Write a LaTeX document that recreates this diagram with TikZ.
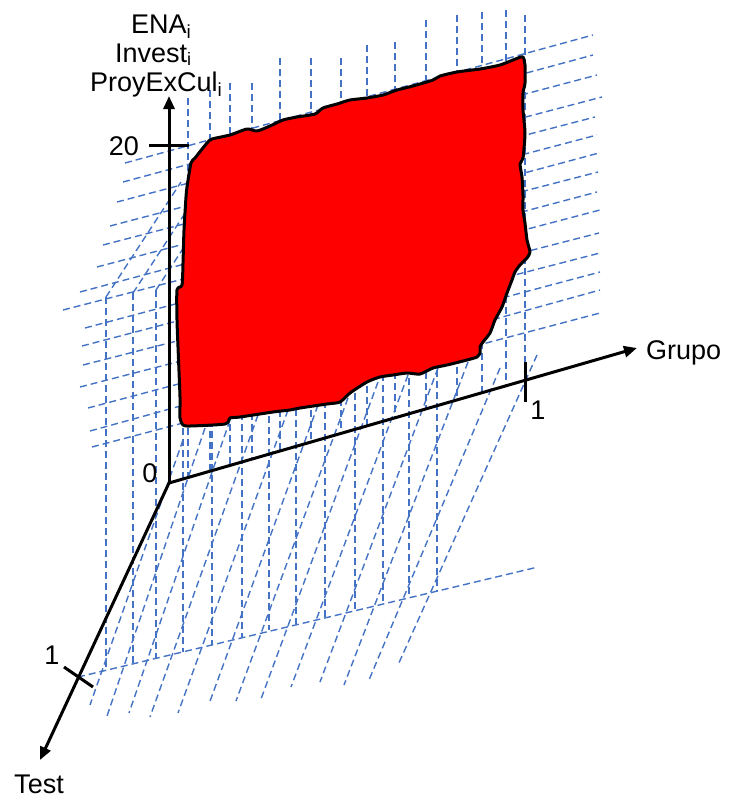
\documentclass[tikz,border=0pt]{standalone}
\usepackage{fontspec}
\setmainfont{Liberation Sans}
\usetikzlibrary{arrows.meta}
\definecolor{gridblue}{RGB}{68,114,196}
\definecolor{shapered}{RGB}{255,0,0}
\begin{document}
\begin{tikzpicture}[x=1pt,y=-1pt,
  gridline/.style={gridblue,line width=1.4pt,dash pattern=on 7pt off 4pt},
  axisline/.style={black,line width=3pt,-{Triangle[length=13pt,width=11pt]}},
  tickline/.style={black,line width=3pt},
  lab/.style={font=\fontsize{27}{30}\selectfont,inner sep=0pt},
  subi/.style={}]
\useasboundingbox (0,0) rectangle (729,798);
\fill[white] (0,0) rectangle (729,798);
% back plane lines parallel to Grupo
\foreach \xa/\ya/\xb/\yb in {125/163/593/35, 123/182/593/55, 117/202/597/75, 110/226/602/97,
  103/245/595/117, 97/267/597/135, 80/292/599/153, 63/310/598/172, 85/328/597/192,
  82/346/600/210, 83/365/599/233, 80/387/600/253, 88/408/600/272, 90/431/600/290, 92/447/600/313}
  \draw[gridline] (\xa,\ya) -- (\xb,\yb);
% back plane vertical lines
\foreach \x/\yt in {188/98, 210/90, 230/83, 252/83, 280/58, 311/58, 341/58, 367/45, 395/42,
  426/20, 457/15, 482/12, 506/10, 525/15}
  \draw[gridline] (\x,\yt) -- (\x,{482-0.287*(\x-170)});
% front plane vertical lines
\foreach \x/\yt/\yb in {106/297/668, 133/293/663, 156/290/658, 183/285/652, 212/277/645,
  242/270/637, 269/262/630, 296/255/624, 325/247/618, 355/239/612, 383/231/603, 409/224/597, 437/216/591}
  \draw[gridline] (\x,\yt) -- (\x,\yb);
% roof lines
\foreach \x/\y in {106/297, 133/293, 156/290}
  \draw[gridline] (\x,\y) -- ({\x+75},{\y-115});
% floor lines parallel to Test
\foreach \xa/\ya/\xb/\yb in {183/440/90/705, 205/428/107/716, 230/420/129/713, 258/415/150/717,
  288/410/178/713, 318/405/209/704, 348/398/236/701, 378/382/261/699, 408/375/291/687,
  438/368/320/682, 468/362/344/685, 500/368/369/680, 537/355/398/665}
  \draw[gridline] (\xa,\ya) -- (\xb,\yb);
% front floor line
\draw[gridline] (78,677) -- (538,567);
% red region
\filldraw[fill=shapered,draw=black,line width=3pt,line join=round]
  plot[smooth cycle,tension=0.4] coordinates {
  (207,143) (212,139) (230,135) (247,129) (257,131) (270,126) (283,120) (297,117) (315,114)
  (323,108) (337,104) (350,100) (367,98) (383,95) (397,90) (413,86) (433,80) (440,76)
  (457,72) (480,69) (500,65) (518,58) (523,57)
  (525,65) (525,83) (523,93) (523,110) (525,133) (523,158) (520,164) (522,177) (523,195)
  (523,210) (525,223) (527,240) (530,252) (527,258) (520,265) (515,272) (512,280) (507,293)
  (502,307) (495,320) (490,333) (483,342) (480,347) (480,353) (477,357) (467,360) (447,365)
  (433,368) (420,374) (407,373) (393,375) (380,377) (367,382) (350,393) (340,402) (327,404)
  (300,408) (290,410) (273,412) (240,417) (230,418) (225,424) (190,426) (183,425) (180,418)
  (180,397) (178,347) (177,320) (177,290) (182,285) (183,263) (184,230) (186,197) (187,187)
  (191,163) (195,158)};
% axes
\coordinate (O) at (169,483);
\coordinate (Ztip) at (169,96);
\coordinate (Gtip) at (637,348);
\coordinate (Ttip) at (40,760);
\draw[axisline] (O) -- (Ztip);
\draw[axisline] (O) -- (Gtip);
\draw[axisline] (O) -- (Ttip);
% ticks
\coordinate (z20a) at (149,145); \coordinate (z20b) at (189,145);
\coordinate (g1a) at (525,362); \coordinate (g1b) at (525,402);
\coordinate (t1a) at (64,667); \coordinate (t1b) at (93,687);
\draw[tickline] (z20a) -- (z20b);
\draw[tickline] (g1a) -- (g1b);
\draw[tickline] (t1a) -- (t1b);
% labels
\node[lab,anchor=base west] (ena) at (131,33) {ENA\textsubscript{i}};
\node[lab,anchor=base west] (inv) at (115,62) {Invest\raisebox{-3pt}{\fontsize{18}{18}\selectfont i}};
\node[lab,anchor=base west] (proy) at (90,91) {ProyExCul\textsubscript{i}};
\node[lab] (t20) at (124,146) {20};
\node[lab] (t0) at (150,473) {0};
\node[lab] (g1) at (538,410) {1};
\node[lab,anchor=base west] (grupo) at (646,359) {Grupo};
\node[lab] (tt1) at (52,655) {1};
\node[lab,anchor=base] (test) at (39,793) {Test};
\end{tikzpicture}
\end{document}
